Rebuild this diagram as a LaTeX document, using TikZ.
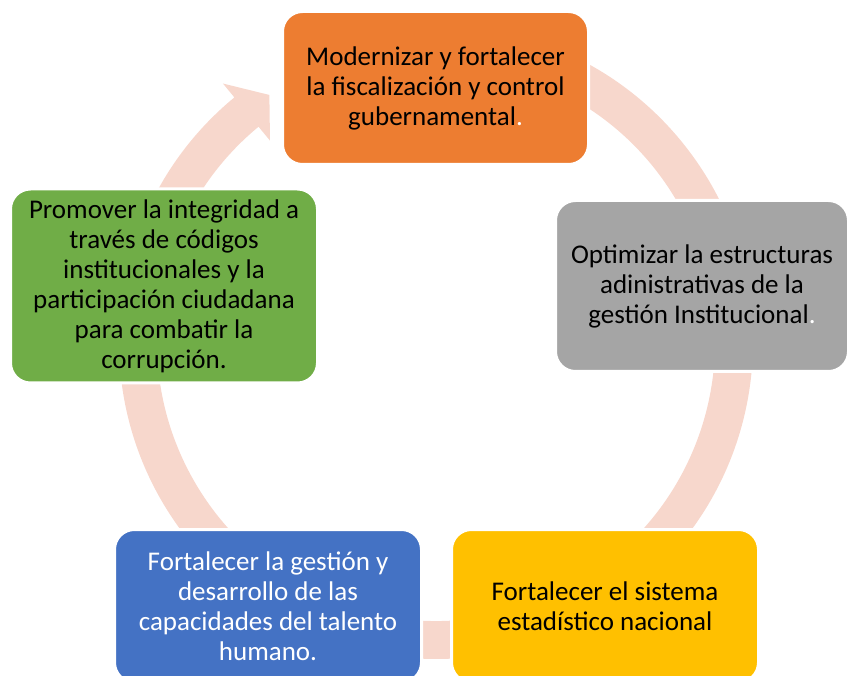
\documentclass[tikz,border=0pt]{standalone}
\usepackage{fontspec}
\setmainfont{Carlito}
\definecolor{naranja}{HTML}{ED7D31}
\definecolor{gris}{HTML}{A5A5A5}
\definecolor{amarillo}{HTML}{FFC000}
\definecolor{azul}{HTML}{4472C4}
\definecolor{verde}{HTML}{70AD47}
\definecolor{salmon}{HTML}{F7D7CC}

\begin{document}
\begin{tikzpicture}[x=1pt,y=1pt,
                   caja/.style={rounded corners=20pt, draw=white, line width=3pt, align=center, inner sep=0pt,
                                font=\fontsize{27}{30}\selectfont},
                   anillo/.style={fill=salmon}]
\clip (0,0) rectangle (848,675);
% ring behind the boxes
\begin{scope}[shift={(436,333)}]
\fill[anillo] (129.5:317) arc[start angle=129.5, end angle=478, radius=317] -- (478:279)
  arc[start angle=478, end angle=129.5, radius=279] -- (129.5:261) -- (124:298) -- (129.5:335) -- cycle;
\end{scope}
\node[caja, fill=naranja, minimum width=306, minimum height=153] (fiscal) at (435.5,587)
  {Modernizar y fortalecer\\la fiscalización y control\\gubernamental\textcolor{white}{.}};
\node[caja, fill=gris, minimum width=293, minimum height=171] (estructura) at (702,389)
  {Optimizar la estructuras\\adinistrativas de la\\gestión Institucional\textcolor{white}{.}};
\node[caja, fill=amarillo, minimum width=307, minimum height=153] (estadistica) at (605,69)
  {Fortalecer el sistema\\estadístico nacional};
\node[caja, fill=azul, text=white, minimum width=307, minimum height=153] (talento) at (268,69)
  {Fortalecer la gestión y\\desarrollo de las\\capacidades del talento\\humano.};
\node[caja, fill=verde, minimum width=307, minimum height=194] (integridad) at (164,389)
  {Promover la integridad a\\través de códigos\\institucionales y la\\participación ciudadana\\para combatir la\\corrupción.};
\end{tikzpicture}
\end{document}
